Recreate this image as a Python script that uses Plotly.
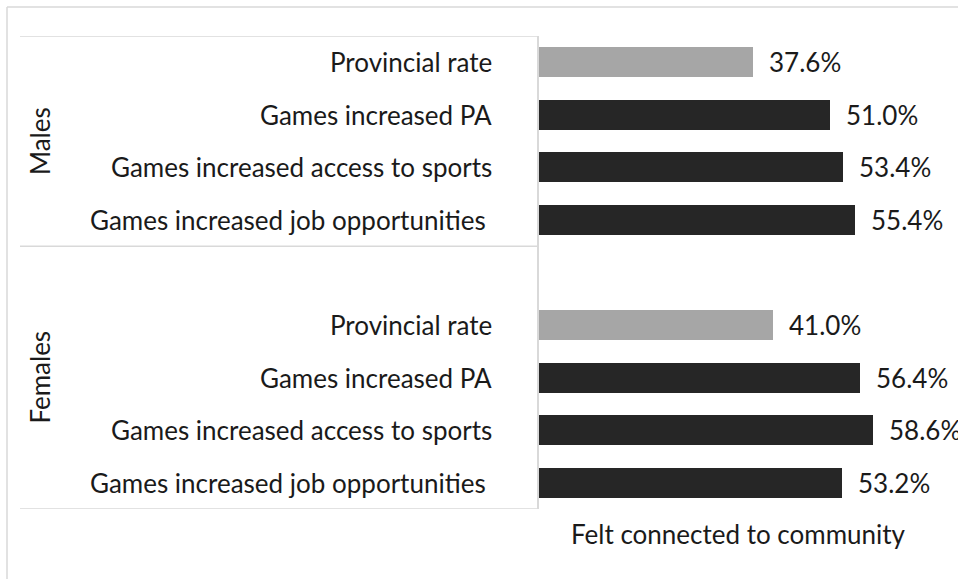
import plotly.graph_objects as go

# Survey results: share who felt connected to community
categories = [
    "Provincial rate",
    "Games increased PA",
    "Games increased access to sports",
    "Games increased job opportunities\u00a0",
]
groups = ["Males", "Females"]
males_values = [37.6, 51.0, 53.4, 55.4]
females_values = [41.0, 56.4, 58.6, 53.2]
axis_title = "Felt connected to community"

GREY = "#a6a6a6"
DARK = "#262626"
LINE = "#d9d9d9"
TEXT = "#1a1a1a"
FONT = "Lato"
FS = 26

W, H = 958, 579
PL, PR, PT, PB = 539, 938, 36, 509  # plot area in pixels


def px_x(px):
    return (px - PL) / (PR - PL)


def px_y(py):
    return (PB - py) / (PB - PT)


# row slots: males 0..3, blank 4, females 5..8
male_rows = list(range(len(categories)))
female_rows = [r + len(categories) + 1 for r in male_rows]
rows = male_rows + female_rows
values = males_values + females_values
colors = [GREY if i == 0 else DARK for i in range(len(categories))] * 2

fig = go.Figure()
fig.add_trace(go.Bar(
    x=values, y=rows, orientation="h",
    marker=dict(color=colors, line=dict(width=0)),
    width=0.57, hoverinfo="x+y", showlegend=False,
))

annotations = []
# value labels at the bar ends
for r, v in zip(rows, values):
    annotations.append(dict(
        x=v, y=r, xref="x", yref="y", text=f"{v:.1f}%", showarrow=False,
        xanchor="left", yanchor="middle", xshift=14,
        font=dict(family=FONT, size=FS, color=TEXT),
    ))
# category labels
for r, label in zip(rows, categories * 2):
    annotations.append(dict(
        x=px_x(494), y=r, xref="paper", yref="y", text=label, showarrow=False,
        xanchor="right", yanchor="middle",
        font=dict(family=FONT, size=FS, color=TEXT),
    ))
# group labels
for g, rr in zip(groups, [male_rows, female_rows]):
    lo, hi = (rr[0] - 0.5, rr[-1] + 0.5) if g == groups[0] else (rr[0] - 1.5, rr[-1] + 0.5)
    annotations.append(dict(
        x=px_x(40), y=(lo + hi) / 2, xref="paper", yref="y", text=g,
        showarrow=False, textangle=-90, xanchor="center", yanchor="middle",
        font=dict(family=FONT, size=FS, color=TEXT),
    ))
# axis title
annotations.append(dict(
    x=0.5, y=px_y(534), xref="paper", yref="paper", text=axis_title,
    showarrow=False, xanchor="center", yanchor="middle",
    font=dict(family=FONT, size=FS, color=TEXT),
))

shapes = []
# group separators on the category axis
for yv in [-0.5, male_rows[-1] + 0.5, female_rows[-1] + 0.5]:
    shapes.append(dict(type="line", xref="paper", yref="y",
                       x0=px_x(20), x1=0, y0=yv, y1=yv,
                       line=dict(color=LINE, width=1.5)))
# chart frame (top and left edges)
shapes.append(dict(type="line", xref="paper", yref="paper",
                   x0=px_x(7), x1=px_x(W + 5), y0=px_y(7), y1=px_y(7),
                   line=dict(color=LINE, width=1.5)))
shapes.append(dict(type="line", xref="paper", yref="paper",
                   x0=px_x(7), x1=px_x(7), y0=px_y(7), y1=px_y(H + 5),
                   line=dict(color=LINE, width=1.5)))

fig.update_layout(
    width=W, height=H,
    margin=dict(l=PL, r=W - PR, t=PT, b=H - PB, pad=0),
    paper_bgcolor="white", plot_bgcolor="white",
    xaxis=dict(range=[0, 70], showgrid=False, zeroline=False,
               showticklabels=False, showline=False, fixedrange=True),
    yaxis=dict(range=[8.5, -0.5], showgrid=False, zeroline=False,
               showticklabels=False, showline=True, linecolor=LINE,
               linewidth=1.5, fixedrange=True),
    annotations=annotations, shapes=shapes,
    bargap=0,
)

fig.write_html("out.html", config={"displayModeBar": False})
